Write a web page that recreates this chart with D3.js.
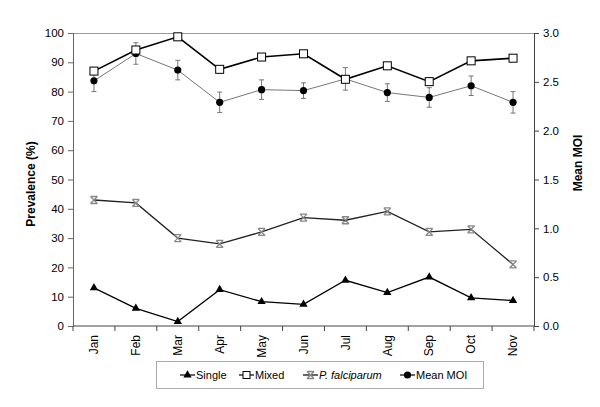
<!DOCTYPE html>
<html>
<head>
<meta charset="utf-8">
<script src="https://cdn.jsdelivr.net/npm/d3@7"></script>
<style>
  body { margin: 0; background: #fff; }
  svg { font-family: "Liberation Sans", Arial, sans-serif; }
</style>
</head>
<body>
<div id="wrapper"></div>
<script>
const months = ["Jan", "Feb", "Mar", "Apr", "May", "Jun", "Jul", "Aug", "Sep", "Oct", "Nov"];
const single = [13.0, 6.0, 1.5, 12.4, 8.3, 7.4, 15.6, 11.4, 16.7, 9.6, 8.7];
const mixed = [87.0, 94.2, 98.7, 87.6, 91.8, 92.9, 84.2, 88.8, 83.4, 90.5, 91.4];
const falciparum = [43.0, 42.0, 30.0, 28.0, 32.1, 37.0, 36.1, 39.1, 32.1, 33.0, 21.0];
const meanMOI = [2.51, 2.79, 2.62, 2.29, 2.42, 2.41, 2.53, 2.39, 2.34, 2.46, 2.29];
const moiErr = [0.11, 0.11, 0.10, 0.105, 0.10, 0.08, 0.115, 0.09, 0.10, 0.10, 0.11];
const leftTicks = d3.range(0, 101, 10);
const rightTicks = d3.range(0, 3.01, 0.5);

const dimension = {
    width: 600,
    height: 407,
    margin: { top: 33, right: 66, bottom: 81, left: 73 }
};
dimension.boundedWidth = dimension.width - dimension.margin.left - dimension.margin.right;
dimension.boundedHeight = dimension.height - dimension.margin.top - dimension.margin.bottom;

const wrapper = d3.select("#wrapper")
    .append("svg")
    .attr("width", dimension.width)
    .attr("height", dimension.height);

const bounds = wrapper.append("g")
    .attr("transform", `translate(${dimension.margin.left},${dimension.margin.top})`);

const x = d3.scaleBand().domain(months).range([0, dimension.boundedWidth]);
const cx = m => x(m) + x.bandwidth() / 2;
const yL = d3.scaleLinear().domain([0, 100]).range([dimension.boundedHeight, 0]);
const yR = d3.scaleLinear().domain([0, 3]).range([dimension.boundedHeight, 0]);

// top border
bounds.append("line")
    .attr("x1", 0).attr("x2", dimension.boundedWidth)
    .attr("y1", 0.5).attr("y2", 0.5)
    .attr("stroke", "#9a9a9a");

// left axis
const axL = bounds.append("g")
    .call(d3.axisLeft(yL).tickValues(leftTicks).tickSize(5).tickPadding(4));
axL.select(".domain").attr("stroke", "#666");
axL.selectAll(".tick line").attr("stroke", "#666");
axL.selectAll("text").attr("font-size", 11.5).attr("fill", "#000");

// right axis
const axR = bounds.append("g")
    .attr("transform", `translate(${dimension.boundedWidth},0)`)
    .call(d3.axisRight(yR).tickValues(rightTicks).tickFormat(d3.format(".1f")).tickSize(5).tickPadding(4));
axR.select(".domain").attr("stroke", "#444");
axR.selectAll(".tick line").attr("stroke", "#444");
axR.selectAll("text").attr("font-size", 11.5).attr("fill", "#000");

// bottom axis (ticks between categories)
const axB = bounds.append("g")
    .attr("transform", `translate(0,${dimension.boundedHeight})`);
axB.append("line")
    .attr("x1", 0).attr("x2", dimension.boundedWidth)
    .attr("stroke", "#444");
axB.selectAll(".tk")
    .data(months.concat(["end"]))
    .enter()
    .append("line")
    .attr("x1", (d, i) => i * x.bandwidth())
    .attr("x2", (d, i) => i * x.bandwidth())
    .attr("y1", 0).attr("y2", 5)
    .attr("stroke", "#444");
axB.selectAll("text")
    .data(months)
    .enter()
    .append("text")
    .attr("transform", d => `translate(${cx(d)},9) rotate(-90)`)
    .attr("dy", "0.35em")
    .attr("text-anchor", "end")
    .attr("font-size", 12)
    .text(d => d);

// axis titles
wrapper.append("text")
    .attr("transform", "translate(31,184) rotate(-90)")
    .attr("dy", "0.35em")
    .attr("text-anchor", "middle")
    .attr("font-size", 12)
    .attr("font-weight", "bold")
    .text("Prevalence (%)");
wrapper.append("text")
    .attr("transform", "translate(578,163) rotate(-90)")
    .attr("dy", "0.35em")
    .attr("text-anchor", "middle")
    .attr("font-size", 12)
    .attr("font-weight", "bold")
    .text("Mean MOI");

// lines
function drawLine(values, scale, color, width) {
    bounds.append("path")
        .datum(values)
        .attr("fill", "none")
        .attr("stroke", color)
        .attr("stroke-width", width)
        .attr("d", d3.line().x((d, i) => cx(months[i])).y(d => scale(d)));
}
drawLine(single, yL, "#000", 1.3);
drawLine(falciparum, yL, "#222", 1.3);
drawLine(meanMOI, yR, "#777", 1);
drawLine(mixed, yL, "#000", 1.6);

// error bars
const eb = bounds.append("g").attr("stroke", "#777").attr("stroke-width", 1);
meanMOI.forEach((v, i) => {
    const px = cx(months[i]);
    const top = yR(v + moiErr[i]), bot = yR(v - moiErr[i]);
    eb.append("line").attr("x1", px).attr("x2", px).attr("y1", top).attr("y2", bot);
    eb.append("line").attr("x1", px - 2.5).attr("x2", px + 2.5).attr("y1", top).attr("y2", top);
    eb.append("line").attr("x1", px - 2.5).attr("x2", px + 2.5).attr("y1", bot).attr("y2", bot);
});

// markers
const tri = d3.symbol().type(d3.symbolTriangle).size(30);
function triangle(g, px, py) {
    g.append("path").attr("d", tri()).attr("transform", `translate(${px},${py})`).attr("fill", "#000");
}
function square(g, px, py, s = 4) {
    g.append("rect").attr("x", px - s).attr("y", py - s).attr("width", 2 * s).attr("height", 2 * s)
        .attr("fill", "#fff").attr("stroke", "#000").attr("stroke-width", 1);
}
function cross(g, px, py) {
    const s = 3.5;
    g.append("path")
        .attr("d", `M${px - s},${py - s}L${px + s},${py + s}M${px - s},${py + s}L${px + s},${py - s}M${px - s},${py - s}L${px + s},${py - s}M${px - s},${py + s}L${px + s},${py + s}`)
        .attr("stroke", "#888").attr("stroke-width", 1.3).attr("fill", "none");
}
function dot(g, px, py) {
    g.append("circle").attr("cx", px).attr("cy", py).attr("r", 3.6).attr("fill", "#000");
}

const marks = bounds.append("g");
single.forEach((v, i) => triangle(marks, cx(months[i]), yL(v)));
falciparum.forEach((v, i) => cross(marks, cx(months[i]), yL(v)));
meanMOI.forEach((v, i) => dot(marks, cx(months[i]), yR(v)));
mixed.forEach((v, i) => square(marks, cx(months[i]), yL(v)));

// legend
const legend = wrapper.append("g").attr("transform", "translate(156,361)");
legend.append("rect")
    .attr("x", 0.5).attr("y", 0.5).attr("width", 327).attr("height", 27)
    .attr("fill", "#fff").attr("stroke", "#aaa");
const legendItems = [
    { name: "Single", x: 24, mark: triangle, italic: false },
    { name: "Mixed", x: 83, mark: (g, a, b) => square(g, a, b, 3.5), italic: false },
    { name: "P. falciparum", x: 147, mark: cross, italic: true },
    { name: "Mean MOI", x: 244, mark: dot, italic: false }
];
legendItems.forEach(d => {
    const g = legend.append("g");
    g.append("line").attr("x1", d.x).attr("x2", d.x + 15).attr("y1", 14).attr("y2", 14)
        .attr("stroke", "#000").attr("stroke-width", 1.2);
    d.mark(g, d.x + 7.5, 14);
    g.append("text")
        .attr("x", d.x + 16).attr("y", 14).attr("dy", "0.35em")
        .attr("font-size", 11)
        .attr("font-style", d.italic ? "italic" : "normal")
        .text(d.name);
});
</script>
</body>
</html>
